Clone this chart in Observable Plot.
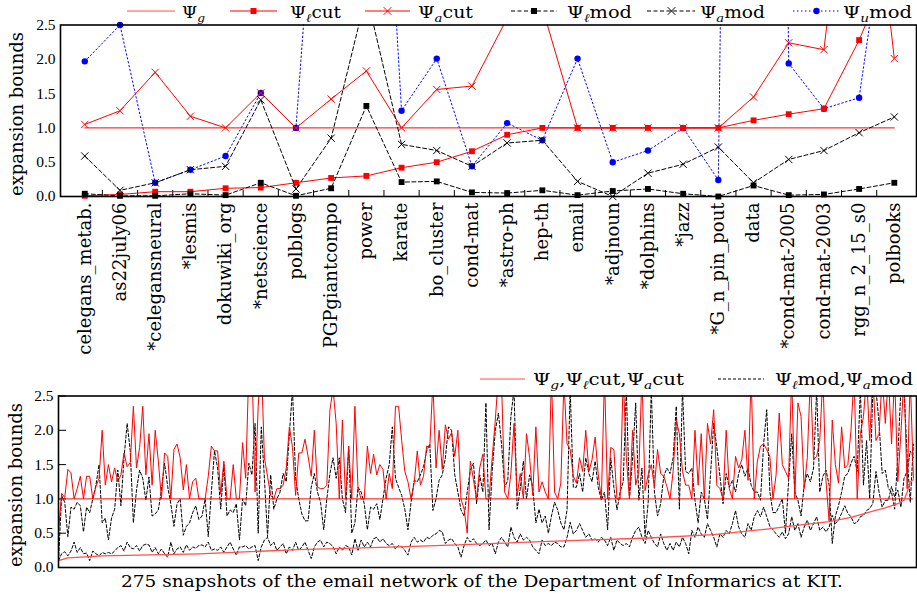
<!DOCTYPE html>
<html><head><meta charset="utf-8">
<script src="https://cdn.jsdelivr.net/npm/d3@7"></script>
<script src="https://cdn.jsdelivr.net/npm/@observablehq/plot@0.6"></script>
<style>
body{margin:0;background:#fff;}
#wrap{position:relative;width:917px;height:597px;overflow:hidden;background:#fff;}
#top{position:absolute;left:0;top:0;}
#bot{position:absolute;left:0;top:360px;}
#overlay{position:absolute;left:0;top:0;pointer-events:none;}
</style></head>
<body><div id="wrap"><div id="top"></div><div id="bot"></div><svg id="overlay" width="917" height="597"></svg></div>
<script>
// ---------- top chart data ----------
const networks = ["celegans_metab.", "as22july06", "*celegansneural", "*lesmis", "dokuwiki_org", "*netscience",
  "polblogs", "PGPgiantcompo", "power", "karate", "bo_cluster", "cond-mat", "*astro-ph", "hep-th", "email",
  "*adjnoun", "*dolphins", "*jazz", "*G_n_pin_pout", "data", "*cond-mat-2005", "cond-mat-2003", "rgg_n_2_15_s0", "polbooks"];
const psiG    = [1,1,1,1,1,1,1,1,1,1,1,1,1,1,1,1,1,1,1,1,1,1,1,1];
const psiLcut = [0.01,0.03,0.07,0.07,0.12,0.13,0.2,0.27,0.3,0.42,0.5,0.66,0.9,1.0,1.0,1.0,1.0,1.0,1.0,1.11,1.2,1.28,2.28,3.5];
const psiAcut = [1.05,1.25,1.81,1.17,1.0,1.51,1.0,1.42,1.83,1.0,1.56,1.61,2.6,2.75,1.0,1.0,1.0,1.0,1.0,1.45,2.24,2.14,6.5,2.01];
const psiLmod = [0.04,0.01,0.01,0.04,0.02,0.2,0.01,0.12,1.32,0.21,0.22,0.06,0.05,0.09,0.02,0.08,0.11,0.04,0.0,0.16,0.02,0.03,0.11,0.2];
const psiAmod = [0.59,0.09,0.2,0.39,0.44,1.41,0.11,0.85,2.95,0.76,0.67,0.44,0.78,0.82,0.22,0.0,0.34,0.47,0.72,0.2,0.54,0.67,0.93,1.16];
const psiUmod = [1.97,2.5,0.2,0.39,0.59,1.51,1.0,8,10,1.25,2.01,0.44,1.07,0.82,2.01,0.5,0.67,1.0,0.24,40,1.94,1.28,1.44,5];
const yTickValues = [0, 0.5, 1.0, 1.5, 2.0, 2.5];

// ---------- bottom chart data (275 snapshots) ----------
const snapGlobal = 1.0;
const snapLcutIdx = [0,3,14,45,77,109,128,157,189,210,227,238,247,254,258,261,265,269,271,272,273,274];
const snapLcutVal = [0.1,0.14,0.17,0.2,0.26,0.3,0.33,0.38,0.43,0.48,0.56,0.62,0.67,0.73,0.78,0.82,0.87,0.93,0.98,1.1,1.25,1.28];
const snapAcut = [
 0.52,1.08,1.02,1.43,1.38,1.0,1.15,1.33,1.0,1.33, 1.33,1.0,1.18,1.3,2.0,1.2,1.5,1.25,1.45,1.25,
 1.35,1.67,1.47,1.53,2.35,1.45,1.75,2.35,1.35,1.95, 1.2,2.0,1.55,1.0,1.67,1.62,1.0,1.72,1.8,1.6,
 1.13,1.5,1.0,1.25,1.3,1.0,
 1.0,1.0,1.33,1.77,1.7,1.7,1.07,1.55,1.0,1.0, 1.5,1.0,1.0,1.82,1.3,2.9,3.0,1.1,2.35,3.0,
 1.6,1.33,1.05,1.0,1.15,1.15,1.2,1.45,2.05,1.75, 1.05,1.67,1.67,1.87,1.62,1.33,2.0,1.17,1.15,1.15,
 1.2,2.3,2.6,2.1,1.0,2.15,
 1.0,1.77,1.0,2.35,1.15,1.0,1.0,1.77,1.37,1.65, 1.35,1.5,1.43,1.0,1.37,1.15,2.35,2.35,1.85,1.4,
 1.25,1.0,1.23,1.7,1.2,1.33,1.77,1.75,2.7,1.45, 2.0,1.43,2.08,1.87,1.97,1.62,2.0,1.0,0.85,0.5,
 1.55,1.28,1.0,1.45,1.65,1.0,
 1.0,1.6,2.15,2.8,2.7,1.1,1.0,1.37,2.1,1.05, 1.37,1.0,1.95,1.6,1.05,2.05,1.1,1.25,1.1,1.0,
 2.8,1.1,1.0,1.23,2.7,1.8,1.72,1.33,1.23,1.6, 1.4,2.0,1.4,1.57,1.9,1.35,1.0,2.8,1.0,1.75,
 1.72,1.0,1.0,2.8,1.6,1.0,
 2.0,1.2,1.4,2.8,1.12,1.35,1.5,1.17,1.72,1.37, 1.33,1.18,1.0,1.4,2.15,1.95,1.4,1.2,1.2,1.0,
 2.0,1.2,1.95,1.0,2.1,1.8,2.3,1.2,1.15,1.0, 2.0,1.15,1.0,1.62,1.45,1.57,2.0,1.27,2.8,1.0,
 1.55,1.77,1.8,1.72,1.62,1.0,
 1.35,2.25,1.5,1.4,1.3,2.8,1.0,2.4,2.2,1.15, 1.6,2.8,1.57,1.62,1.85,2.8,1.25,0.68,2.15,1.5,
 1.23,2.05,1.45,1.5,2.0,2.8,1.0,1.95,2.2,2.8, 1.85,2.8,1.85,1.95,2.8,2.1,2.8,1.8,2.8,1.25,
 1.95,2.8,1.15,2.8,1.3];
const snapAmod = [
 0.1,1.05,0.95,0.45,0.88,0.85,0.95,0.9,0.52,0.88, 0.8,1.0,1.2,1.5,0.65,0.72,0.4,0.72,0.85,1.42,
 0.9,1.6,2.1,1.7,0.65,1.13,1.42,1.3,0.98,1.32, 0.75,0.78,0.84,1.13,1.52,1.18,0.93,0.6,0.93,1.0,
 0.47,0.6,0.65,0.8,0.9,0.7,
 0.75,1.0,0.45,1.1,1.7,1.45,0.85,1.5,0.75,0.84, 0.8,0.93,0.4,1.0,0.9,1.52,1.35,2.1,0.5,2.05,
 1.3,0.45,1.35,0.85,1.0,1.1,1.37,1.25,1.95,2.6, 1.3,1.0,0.78,0.68,0.68,1.17,1.37,1.1,0.95,0.55,
 1.0,1.37,1.6,1.3,1.6,1.0,
 0.8,1.75,0.5,0.65,1.17,1.1,0.93,0.55,0.88,0.85, 0.93,0.7,1.0,1.3,1.5,2.05,1.3,1.17,1.05,0.85,
 0.55,0.95,1.27,1.25,1.35,1.47,1.7,1.8,0.83,1.0, 1.27,1.35,1.6,2.05,2.0,1.35,1.1,0.84,0.75,1.1,
 1.42,1.52,0.93,1.35,1.1,2.4,
 0.55,1.4,2.0,2.25,1.8,1.17,1.27,2.2,2.6,0.85, 1.15,1.55,1.0,1.35,1.17,0.65,0.85,0.65,0.75,0.5,
 0.75,0.95,0.84,0.65,0.55,0.84,2.6,1.17,1.17,1.37, 1.1,1.6,1.37,1.25,1.55,1.17,0.98,1.1,0.55,1.6,
 1.17,0.84,1.1,1.25,2.6,1.0,
 1.6,2.4,0.98,1.45,0.45,0.95,2.6,1.1,0.75,0.93, 1.33,1.45,1.37,1.6,2.35,0.85,2.6,1.4,1.37,1.45,
 0.98,0.65,1.1,1.0,0.7,1.37,2.1,1.75,1.33,0.93, 1.37,1.17,1.27,1.1,1.37,1.5,1.33,1.45,1.2,1.1,
 1.1,0.98,1.8,2.3,1.1,0.8,
 0.8,0.9,1.0,0.5,1.25,1.95,1.1,0.98,0.75,1.2, 1.37,1.25,1.45,2.6,1.1,1.33,1.42,1.2,0.35,0.75,
 0.9,1.1,1.33,1.37,1.52,1.62,1.4,2.6,1.2,1.85, 1.0,2.6,2.6,2.1,1.37,1.42,1.15,1.1,0.85,1.62,
 2.6,2.6,1.62,0.95,1.8];
const snapLmod = [
 0.1,0.2,0.23,0.17,0.24,0.37,0.22,0.29,0.2,0.21, 0.1,0.24,0.2,0.17,0.22,0.2,0.22,0.2,0.24,0.29,
 0.32,0.24,0.37,0.29,0.27,0.32,0.24,0.32,0.34,0.33, 0.22,0.29,0.2,0.27,0.2,0.15,0.37,0.2,0.27,0.3,
 0.22,0.33,0.25,0.3,0.28,0.32,
 0.33,0.3,0.37,0.25,0.27,0.25,0.3,0.22,0.3,0.37, 0.27,0.18,0.3,0.3,0.32,0.27,0.3,0.32,0.1,0.3,
 0.4,0.44,0.32,0.37,0.25,0.3,0.35,0.2,0.3,0.25, 0.37,0.25,0.3,0.37,0.25,0.13,0.3,0.37,0.4,0.3,
 0.37,0.35,0.3,0.2,0.3,0.25,
 0.32,0.3,0.18,0.42,0.25,0.4,0.3,0.37,0.3,0.42, 0.44,0.37,0.42,0.35,0.32,0.35,0.27,0.32,0.3,0.25,
 0.18,0.37,0.44,0.37,0.4,0.37,0.44,0.42,0.47,0.49, 0.54,0.52,0.35,0.4,0.42,0.35,0.3,0.15,0.32,0.44,
 0.37,0.42,0.35,0.32,0.35,0.4,
 0.32,0.35,0.2,0.37,0.44,0.37,0.3,0.59,0.44,0.37, 0.49,0.4,0.44,0.4,0.3,0.25,0.2,0.4,0.32,0.35,
 0.32,0.37,0.35,0.3,0.3,0.44,0.66,0.49,0.54,0.64, 0.54,0.44,0.49,0.4,0.42,0.37,0.44,0.4,0.32,0.44,
 0.25,0.4,0.35,0.32,0.35,0.3,
 0.44,0.54,0.59,0.44,0.35,0.54,0.44,0.35,0.3,0.49, 0.35,0.25,0.35,0.25,0.37,0.3,0.44,0.35,0.2,0.54,
 0.44,0.59,0.49,0.44,0.64,0.54,0.44,0.3,0.49,0.44, 0.54,0.49,0.64,0.83,0.59,0.49,0.44,0.64,0.54,0.74,
 0.83,0.74,0.88,0.74,0.6,0.55,
 0.49,0.44,0.52,0.42,0.49,0.74,0.54,0.64,0.44,0.59, 0.69,0.54,0.64,0.74,0.54,0.59,0.52,0.59,0.76,0.64,
 0.69,0.79,0.9,0.79,0.74,0.64,0.66,0.74,0.76,0.83, 0.86,0.93,1.4,1.1,0.88,0.98,0.98,1.18,1.03,1.13,
 0.88,1.3,1.4,1.7,1.6];

// ---------- styling ----------
const RED = "#ff0000", LIGHTRED = "#ff5050", BLUE = "#0000ff", BLACK = "#000000";
const SERIF = "DejaVu Serif";
const fmt = d3.format(".1f");
const idxOf = (d, i) => i;
const inFrame = v => v <= 2.5;

// ---------- top chart ----------
const catIdx = networks.map((d, i) => i);
const catBounds = catIdx.slice(1).map(i => i - 0.5);
const topH = 360, topMT = 24.5, topMB = 164;
const topPlot = Plot.plot({
  width: 917, height: topH,
  marginLeft: 60, marginRight: 1, marginTop: topMT, marginBottom: topMB,
  style: {fontFamily: "Liberation Serif", fontSize: "15.5px", background: "white", color: "black"},
  x: {domain: [-0.69, 23.63], axis: null},
  y: {domain: [0, 2.5], ticks: yTickValues, tickFormat: fmt, tickSize: 0, tickPadding: 5, label: null},
  marks: [
    Plot.tickX(catBounds, {x: d => d, stroke: BLACK, strokeWidth: 1, insetTop: topH - topMT - topMB - 6}),
    Plot.lineY(psiUmod, {x: idxOf, y: d => d, stroke: BLUE, strokeWidth: 1, strokeDasharray: "1.5,2.5", clip: true}),
    Plot.dot(psiUmod, {x: idxOf, y: d => d, filter: inFrame, symbol: "circle", r: 3.2, fill: BLUE, stroke: "none"}),
    Plot.lineY(psiG, {x: idxOf, y: d => d, stroke: RED, strokeWidth: 1}),
    Plot.lineY(psiLcut, {x: idxOf, y: d => d, stroke: RED, strokeWidth: 1, clip: true}),
    Plot.dot(psiLcut, {x: idxOf, y: d => d, filter: inFrame, symbol: "square", r: 3.3, fill: RED, stroke: "none"}),
    Plot.lineY(psiAcut, {x: idxOf, y: d => d, stroke: RED, strokeWidth: 1, clip: true}),
    Plot.dot(psiAcut, {x: idxOf, y: d => d, filter: inFrame, symbol: "times", r: 3.4, fill: "none", stroke: RED, strokeWidth: 1}),
    Plot.lineY(psiLmod, {x: idxOf, y: d => d, stroke: BLACK, strokeWidth: 1, strokeDasharray: "4,2.5", clip: true}),
    Plot.dot(psiLmod, {x: idxOf, y: d => d, filter: inFrame, symbol: "square", r: 3.3, fill: BLACK, stroke: "none"}),
    Plot.lineY(psiAmod, {x: idxOf, y: d => d, stroke: BLACK, strokeWidth: 1, strokeDasharray: "4,2.5", clip: true}),
    Plot.dot(psiAmod, {x: idxOf, y: d => d, filter: inFrame, symbol: "times", r: 3.4, fill: "none", stroke: BLACK, strokeWidth: 1}),
    Plot.frame({stroke: BLACK, strokeWidth: 1.6}),
    Plot.text(networks, {x: idxOf, frameAnchor: "bottom", text: d => d, rotate: -90, textAnchor: "end",
      lineAnchor: "middle", dy: 6, fontFamily: SERIF, fontSize: 18, fill: BLACK})
  ]
});
document.getElementById("top").appendChild(topPlot);

// ---------- bottom chart ----------
const botH = 237, botMT = 35.5, botMB = 30, botML = 58, botMR = 1;
const lcutRows = snapLcutIdx.map((k, i) => ({k, v: snapLcutVal[i]}));
const botPlot = Plot.plot({
  width: 917, height: botH,
  marginLeft: botML, marginRight: botMR, marginTop: botMT, marginBottom: botMB,
  style: {fontFamily: "Liberation Serif", fontSize: "15.5px", background: "white", color: "black"},
  x: {domain: [0, snapAcut.length], axis: null},
  y: {domain: [0, 2.5], ticks: yTickValues, tickFormat: fmt, tickSize: 0, tickPadding: 5, label: null},
  marks: [
    Plot.tickY(yTickValues, {y: d => d, stroke: BLACK, strokeWidth: 1, insetRight: 917 - botML - botMR - 8}),
    Plot.lineY(snapLmod, {x: idxOf, y: d => d, stroke: BLACK, strokeWidth: 1, strokeDasharray: "3,2", clip: true}),
    Plot.lineY(snapAmod, {x: idxOf, y: d => d, stroke: BLACK, strokeWidth: 1, strokeDasharray: "3,2", clip: true}),
    Plot.ruleY([snapGlobal], {y: d => d, x1: 0, x2: snapAcut.length - 1, stroke: RED, strokeWidth: 1}),
    Plot.line(lcutRows, {x: "k", y: "v", stroke: LIGHTRED, strokeWidth: 1.3, clip: true}),
    Plot.lineY(snapAcut, {x: idxOf, y: d => d, stroke: RED, strokeWidth: 1, clip: true}),
    Plot.frame({stroke: BLACK, strokeWidth: 1.6})
  ]
});
document.getElementById("bot").appendChild(botPlot);

// ---------- overlay: legends, axis titles, caption ----------
const ov = d3.select("#overlay");
function richText(x, y, segs, len, size) {
  const t = ov.append("text").attr("x", x).attr("y", y).attr("font-family", SERIF)
    .attr("font-size", size).attr("fill", BLACK);
  if (len) t.attr("textLength", len).attr("lengthAdjust", "spacingAndGlyphs");
  let shifted = false;
  for (const s of segs) {
    const sp = t.append("tspan").text(s.t);
    if (s.sub) { sp.attr("font-size", size * 0.7).attr("font-style", "italic").attr("dy", shifted ? 0 : 4); shifted = true; }
    else { if (shifted) sp.attr("dy", -4); shifted = false; }
  }
}
function legLine(x1, x2, y, stroke, dash) {
  ov.append("line").attr("x1", x1).attr("x2", x2).attr("y1", y).attr("y2", y)
    .attr("stroke", stroke).attr("stroke-width", 1.2).attr("stroke-dasharray", dash || null);
}
function legSym(type, cx, cy, color, filled) {
  const size = type === d3.symbolCircle ? 32 : (type === d3.symbolSquare ? 36 : 40);
  ov.append("path").attr("transform", `translate(${cx},${cy})`).attr("d", d3.symbol(type, size)())
    .attr("fill", filled ? color : "none").attr("stroke", filled ? "none" : color).attr("stroke-width", 1);
}
// top legend
const LY = 11, LB = 17.5, FS = 17;
legLine(127, 175, LY, LIGHTRED);
richText(182, LB, [{t: "Ψ"}, {t: "g", sub: true}], 23, FS);
legLine(230, 277, LY, RED); legSym(d3.symbolSquare, 253.5, LY, RED, true);
richText(290, LB, [{t: "Ψ"}, {t: "ℓ", sub: true}, {t: "cut"}], 51, FS);
legLine(365, 410, LY, RED); legSym(d3.symbolTimes, 387.5, LY, RED, false);
richText(418, LB, [{t: "Ψ"}, {t: "a", sub: true}, {t: "cut"}], 55, FS);
legLine(511, 557, LY, BLACK, "4,2.5"); legSym(d3.symbolSquare, 534, LY, BLACK, true);
richText(567, LB, [{t: "Ψ"}, {t: "ℓ", sub: true}, {t: "mod"}], 65, FS);
legLine(647, 695, LY, BLACK, "4,2.5"); legSym(d3.symbolTimes, 671.5, LY, BLACK, false);
richText(700, LB, [{t: "Ψ"}, {t: "a", sub: true}, {t: "mod"}], 65, FS);
legLine(793, 840, LY, BLUE, "1.5,2.5"); legSym(d3.symbolCircle, 816.5, LY, BLUE, true);
richText(843, LB, [{t: "Ψ"}, {t: "u", sub: true}, {t: "mod"}], 69, FS);

// bottom legend
legLine(480, 525, 379, LIGHTRED);
richText(533, 385, [{t: "Ψ"}, {t: "g", sub: true}, {t: ",Ψ"}, {t: "ℓ", sub: true}, {t: "cut,Ψ"}, {t: "a", sub: true}, {t: "cut"}], 151, FS);
legLine(718, 764, 379, BLACK, "3,2");
richText(775, 385, [{t: "Ψ"}, {t: "ℓ", sub: true}, {t: "mod,Ψ"}, {t: "a", sub: true}, {t: "mod"}], 138, FS);

// y axis titles
ov.append("text").attr("transform", "translate(23,114) rotate(-90)").attr("text-anchor", "middle")
  .attr("font-family", SERIF).attr("font-size", 18).attr("fill", BLACK).text("expansion bounds");
ov.append("text").attr("transform", "translate(22,485) rotate(-90)").attr("text-anchor", "middle")
  .attr("font-family", SERIF).attr("font-size", 18).attr("fill", BLACK).text("expansion bounds");

// caption
ov.append("text").attr("x", 121).attr("y", 587).attr("font-family", SERIF).attr("font-size", 16.5)
  .attr("fill", BLACK).attr("textLength", 722).attr("lengthAdjust", "spacingAndGlyphs")
  .text("275 snapshots of the email network of the Department of Informarics at KIT.");
</script></body></html>
